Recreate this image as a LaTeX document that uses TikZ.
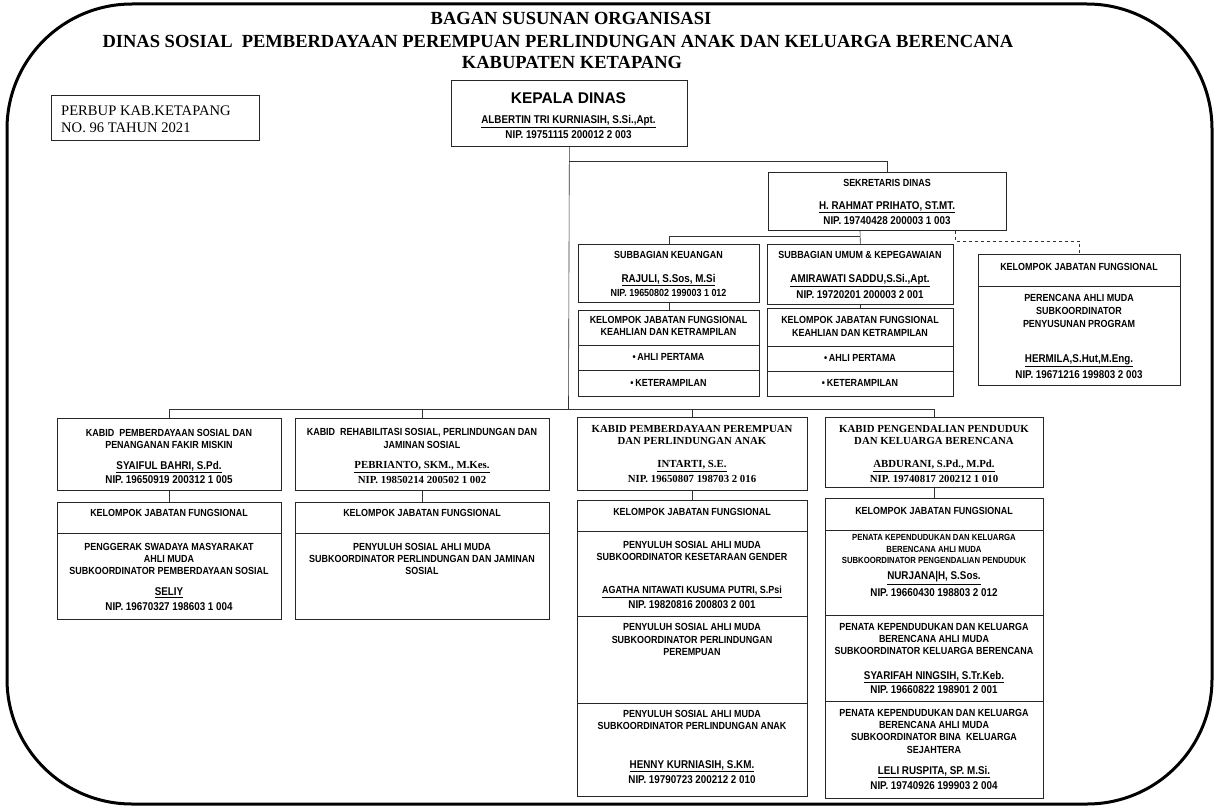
\documentclass[tikz,border=0pt]{standalone}
\usepackage{fontspec}
\setmainfont{Liberation Serif}
\newfontfamily\nar[FakeStretch=0.87]{Liberation Sans}
\newfontfamily\arl{Liberation Sans}
\tikzset{
  bx/.style={draw=black!85, line width=0.7pt, inner sep=0pt, rectangle},
  dv/.style={draw=black!85, line width=0.7pt},
  conn/.style={draw=black!80, line width=0.6pt},
  tx/.style={inner sep=0pt, font=\nar\bfseries\fontsize{10.3}{12}\selectfont},
  ts/.style={inner sep=0pt, font=\nar\bfseries\fontsize{8.9}{10}\selectfont},
  tn/.style={inner sep=0pt, font=\nar\bfseries\fontsize{11.3}{13}\selectfont},
  tr/.style={inner sep=0pt, font=\bfseries\fontsize{10.8}{12}\selectfont},
  ttl/.style={inner sep=0pt, font=\bfseries\fontsize{18.5}{20}\selectfont},
}
\newcommand\boxat[5]{\node[bx, anchor=north west, minimum width={(#4-#2)*1pt}, minimum height={(#5-#3)*1pt}] (#1) at (#2,#3) {};}
\newcommand\hdiv[2]{\draw[dv] (#1.west |- 0,#2) -- (#1.east |- 0,#2);}
\begin{document}
\begin{tikzpicture}[x=1pt,y=-1pt]
\useasboundingbox (0,0) rectangle (1218,808);
\draw[line width=3pt, rounded corners=125pt] (7,4) rectangle (1212,804);

% titles
\node[ttl] (ti1) at (571,18) {BAGAN SUSUNAN ORGANISASI};
\node[ttl] (ti2) at (558,41) {DINAS SOSIAL\ \ PEMBERDAYAAN PEREMPUAN PERLINDUNGAN ANAK DAN KELUARGA BERENCANA};
\node[ttl] (ti3) at (572,62) {KABUPATEN KETAPANG};

% perbup
\boxat{pb}{51}{95}{259}{140}
\node[inner sep=0pt, anchor=west, font=\fontsize{14.6}{16}\selectfont] (pb1) at (61,110.5) {PERBUP KAB.KETAPANG};
\node[inner sep=0pt, anchor=west, font=\fontsize{14.6}{16}\selectfont] (pb2) at (61,127.5) {NO. 96 TAHUN 2021};

% kepala dinas
\boxat{kd}{451}{80}{687}{146}
\node[inner sep=0pt, font=\arl\bfseries\fontsize{15.5}{18}\selectfont] (kd1) at (568.5,98) {KEPALA DINAS};
\node[tn] (kd2) at (568.5,122) {\underline{ALBERTIN TRI KURNIASIH, S.Si.,Apt.}};
\node[tn] (kd3) at (568.5,135) {NIP. 19751115 200012 2 003};

% sekretaris
\boxat{sek}{768}{172}{1006}{230}
\node[tx] (s1) at (887,183) {SEKRETARIS DINAS};
\node[tn] (s2) at (887,207) {\underline{H. RAHMAT PRIHATO, ST.MT.}};
\node[tn] (s3) at (887,221) {NIP. 19740428 200003 1 003};

% kelompok right
\boxat{kjr}{978}{254}{1180}{385}
\hdiv{kjr}{286}
\node[tx] (r1) at (1079,267) {KELOMPOK JABATAN FUNGSIONAL};
\node[tx] (r2) at (1079,298) {PERENCANA AHLI MUDA};
\node[tx] (r3) at (1079,311) {SUBKOORDINATOR};
\node[tx] (r4) at (1079,324) {PENYUSUNAN PROGRAM};
\node[tn] (r5) at (1079,361) {\underline{HERMILA,S.Hut,M.Eng.}};
\node[tn] (r6) at (1079,375) {NIP. 19671216 199803 2 003};

% subbagian keuangan
\boxat{sk}{578}{244}{759}{302}
\node[tx] (sk1) at (668.5,255) {SUBBAGIAN KEUANGAN};
\node[tn] (sk2) at (668.5,280) {\underline{RAJULI, S.Sos, M.Si}};
\node[tx] (sk3) at (668.5,293) {NIP. 19650802 199003 1 012};
\boxat{kk}{578}{310}{759}{396}
\hdiv{kk}{345}
\hdiv{kk}{370}
\node[tx] (kk1) at (668.5,320) {KELOMPOK JABATAN FUNGSIONAL};
\node[tx] (kk2) at (668.5,332) {KEAHLIAN DAN KETRAMPILAN};
\node[tx] (kk3) at (668.5,357) {\textbullet\,AHLI PERTAMA};
\node[tx] (kk4) at (668.5,383) {\textbullet\,KETERAMPILAN};

% subbagian umum
\boxat{su}{767}{244}{953}{304}
\node[tx] (su1) at (860,255) {SUBBAGIAN UMUM \& KEPEGAWAIAN};
\node[tn] (su2) at (860,281) {\underline{AMIRAWATI SADDU,S.Si.,Apt.}};
\node[tn] (su3) at (860,295) {NIP. 19720201 200003 2 001};
\boxat{ku}{767}{308}{953}{396}
\hdiv{ku}{346}
\hdiv{ku}{371}
\node[tx] (ku1) at (860,320) {KELOMPOK JABATAN FUNGSIONAL};
\node[tx] (ku2) at (860,333) {KEAHLIAN DAN KETRAMPILAN};
\node[tx] (ku3) at (860,358) {\textbullet\,AHLI PERTAMA};
\node[tx] (ku4) at (860,383) {\textbullet\,KETERAMPILAN};

% kabid 1
\boxat{kb1}{57}{418}{281}{490}
\node[tx] (a1) at (169,433) {KABID\ \ PEMBERDAYAAN SOSIAL DAN};
\node[tx] (a2) at (169,445) {PENANGANAN FAKIR MISKIN};
\node[tn] (a3) at (169,467) {\underline{SYAIFUL BAHRI, S.Pd.}};
\node[tn] (a4) at (169,480) {NIP. 19650919 200312 1 005};
\boxat{kj1}{57}{502}{281}{619}
\hdiv{kj1}{533}
\node[tx] (b1) at (169,513) {KELOMPOK JABATAN FUNGSIONAL};
\node[tx] (b2) at (169,547) {PENGGERAK SWADAYA MASYARAKAT};
\node[tx] (b3) at (169,559) {AHLI MUDA};
\node[tx] (b4) at (169,571) {SUBKOORDINATOR PEMBERDAYAAN SOSIAL};
\node[tn] (b5) at (169,593) {\underline{SELIY}};
\node[tn] (b6) at (169,607) {NIP. 19670327 198603 1 004};

% kabid 2
\boxat{kb2}{295}{418}{549}{490}
\node[tx] (c1) at (422,433) {KABID\ \ REHABILITASI SOSIAL, PERLINDUNGAN DAN};
\node[tx] (c2) at (422,445) {JAMINAN SOSIAL};
\node[tr] (c3) at (422,467) {\underline{PEBRIANTO, SKM., M.Kes.}};
\node[tr] (c4) at (422,480) {NIP. 19850214 200502 1 002};
\boxat{kj2}{295}{502}{549}{619}
\hdiv{kj2}{533}
\node[tx] (d1) at (422,513) {KELOMPOK JABATAN FUNGSIONAL};
\node[tx] (d2) at (422,547) {PENYULUH SOSIAL AHLI MUDA};
\node[tx] (d3) at (422,559) {SUBKOORDINATOR PERLINDUNGAN DAN JAMINAN};
\node[tx] (d4) at (422,571) {SOSIAL};

% kabid 3
\boxat{kb3}{577}{417}{807}{490}
\node[tr] (e1) at (692,429) {KABID PEMBERDAYAAN PEREMPUAN};
\node[tr] (e2) at (692,441) {DAN PERLINDUNGAN ANAK};
\node[tr] (e3) at (692,466) {\underline{INTARTI, S.E.}};
\node[tr] (e4) at (692,479) {NIP. 19650807 198703 2 016};
\boxat{kj3}{577}{500}{807}{796}
\hdiv{kj3}{531}
\hdiv{kj3}{616}
\hdiv{kj3}{703}
\node[tx] (f1) at (692,512) {KELOMPOK JABATAN FUNGSIONAL};
\node[tx] (f2) at (692,545) {PENYULUH SOSIAL AHLI MUDA};
\node[tx] (f3) at (692,557) {SUBKOORDINATOR KESETARAAN GENDER};
\node[tx] (f4) at (692,592) {\underline{AGATHA NITAWATI KUSUMA PUTRI, S.Psi}};
\node[tn] (f5) at (692,605) {NIP. 19820816 200803 2 001};
\node[tx] (f6) at (692,627) {PENYULUH SOSIAL AHLI MUDA};
\node[tx] (f7) at (692,640) {SUBKOORDINATOR PERLINDUNGAN};
\node[tx] (f8) at (692,652) {PEREMPUAN};
\node[tx] (f9) at (692,714) {PENYULUH SOSIAL AHLI MUDA};
\node[tx] (f10) at (692,726) {SUBKOORDINATOR PERLINDUNGAN ANAK};
\node[tn] (f11) at (692,766) {\underline{HENNY KURNIASIH, S.KM.}};
\node[tn] (f12) at (692,780) {NIP. 19790723 200212 2 010};

% kabid 4
\boxat{kb4}{825}{417}{1043}{487}
\node[tr] (g1) at (934,429) {KABID PENGENDALIAN PENDUDUK};
\node[tr] (g2) at (934,441) {DAN KELUARGA BERENCANA};
\node[tr] (g3) at (934,466) {\underline{ABDURANI, S.Pd., M.Pd.}};
\node[tr] (g4) at (934,479) {NIP. 19740817 200212 1 010};
\boxat{kj4}{825}{498}{1043}{798}
\hdiv{kj4}{530}
\hdiv{kj4}{615}
\hdiv{kj4}{701}
\node[tx] (h1) at (934,511) {KELOMPOK JABATAN FUNGSIONAL};
\node[ts] (h2) at (934,537) {PENATA KEPENDUDUKAN DAN KELUARGA};
\node[ts] (h3) at (934,549) {BERENCANA AHLI MUDA};
\node[ts] (h4) at (934,560) {SUBKOORDINATOR PENGENDALIAN PENDUDUK};
\node[tn] (h5) at (934,578) {\underline{NURJANA|H, S.Sos.}};
\node[tn] (h6) at (934,593) {NIP. 19660430 198803 2 012};
\node[tx] (h7) at (934,627) {PENATA KEPENDUDUKAN DAN KELUARGA};
\node[tx] (h8) at (934,639) {BERENCANA AHLI MUDA};
\node[tx] (h9) at (934,651) {SUBKOORDINATOR KELUARGA BERENCANA};
\node[tn] (h10) at (934,677) {\underline{SYARIFAH NINGSIH, S.Tr.Keb.}};
\node[tn] (h11) at (934,690) {NIP. 19660822 198901 2 001};
\node[tx] (h12) at (934,713) {PENATA KEPENDUDUKAN DAN KELUARGA};
\node[tx] (h13) at (934,725) {BERENCANA AHLI MUDA};
\node[tx] (h14) at (934,737) {SUBKOORDINATOR BINA\ \ KELUARGA};
\node[tx] (h15) at (934,750) {SEJAHTERA};
\node[tn] (h16) at (934,772) {\underline{LELI RUSPITA, SP. M.Si.}};
\node[tn] (h17) at (934,786) {NIP. 19740926 199903 2 004};

% connectors
\coordinate (k1) at (568.5,161);
\coordinate (bus) at (568.5,409);
\coordinate (sb) at (860,236);
\coordinate (dd) at (955,241);
\draw[conn] (kd.south) -- (bus);
\draw[conn] (k1) -| (sek.north);
\draw[conn] (kb1.north) |- (bus);
\draw[conn] (kb2.north) |- (bus);
\draw[conn] (kb3.north) |- (bus);
\draw[conn] (kb4.north) |- (bus);
\draw[conn] (sk.north) |- (sb);
\draw[conn] (sek.south -| sb) -- (su.north);
\draw[conn, dashed] (sek.south -| dd) -- (dd) -| (kjr.north);
\draw[conn] (sk.south) -- (kk.north);
\draw[conn] (su.south) -- (ku.north);
\draw[conn] (kb1.south) -- (kj1.north);
\draw[conn] (kb2.south) -- (kj2.north);
\draw[conn] (kb3.south) -- (kj3.north);
\draw[conn] (kb4.south) -- (kj4.north);
\end{tikzpicture}
\end{document}
